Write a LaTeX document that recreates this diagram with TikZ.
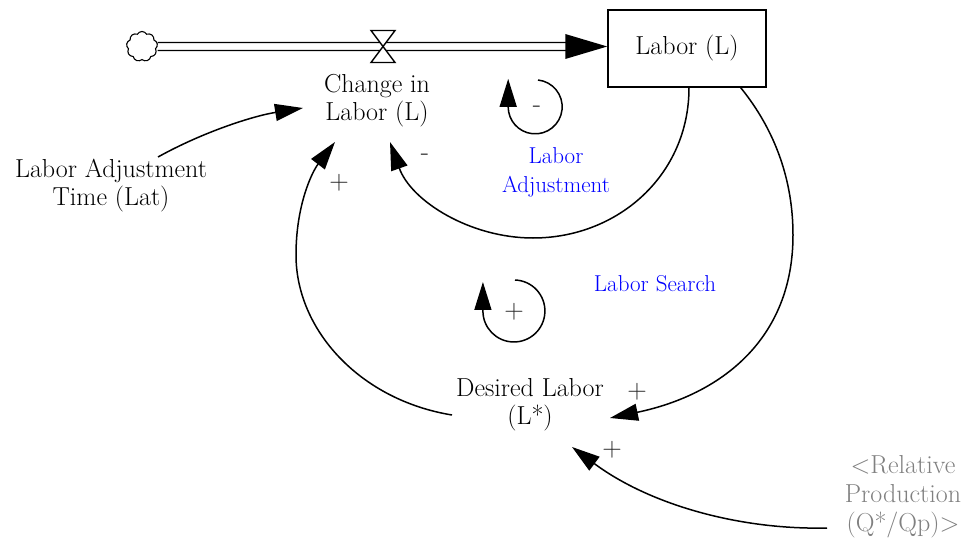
\documentclass[tikz,border=0pt]{standalone}
\usetikzlibrary{arrows.meta,shapes.symbols,calc}
\definecolor{vblue}{RGB}{0,0,255}
\definecolor{vgray}{RGB}{128,128,128}
\begin{document}
\begin{tikzpicture}[x=1pt,y=-1pt,
  lbl/.style={font=\fontsize{26}{28}\selectfont, align=center, inner sep=0pt},
  loopname/.style={font=\fontsize{23}{29}\selectfont, text=vblue, align=center, inner sep=0pt},
  shadowvar/.style={font=\fontsize{26}{29}\selectfont, text=vgray, align=center, inner sep=0pt},
  pol/.style={font=\fontsize{27}{27}\selectfont, text=black!85, inner sep=0pt},
  link/.style={line width=1.5pt, -{Triangle[length=28pt,width=17pt]}},
  loopline/.style={line width=1.5pt, -{Triangle[length=28pt,width=17pt]}},
  pipe/.style={line width=1.4pt}
]
\useasboundingbox (0,0) rectangle (970,559);

% stock and flow
\node[draw, line width=1.5pt, minimum width=158pt, minimum height=77pt, lbl] (box) at (687,48.5) {Labor (L)};
\node[cloud, draw, cloud puffs=9, cloud puff arc=120, aspect=1, minimum width=31pt, minimum height=30pt, inner sep=0pt, line width=1.1pt] (cloud) at (142,46.5) {};
\coordinate (tipL) at ([yshift=2pt]box.west);
\coordinate (valve) at (383,46.5);
\draw[pipe] ([yshift=4pt]cloud.east) -- ([yshift=4pt,xshift=-40pt]tipL);
\draw[pipe] ([yshift=-4pt]cloud.east) -- ([yshift=-4pt,xshift=-40pt]tipL);
\fill ([xshift=-42pt,yshift=12.5pt]tipL) -- (tipL) -- ([xshift=-42pt,yshift=-12.5pt]tipL) -- cycle;
\draw[pipe, fill=white, line join=miter] ($(valve)+(-12,-16)$) -- ($(valve)+(12,-16)$) -- (valve) -- cycle;
\draw[pipe, fill=white, line join=miter] ($(valve)+(-12,16)$) -- ($(valve)+(12,16)$) -- (valve) -- cycle;

% variables
\node[lbl] (chg) at (377,101) {Change in\\Labor (L)};
\node[lbl] (lat) at (111,186) {Labor Adjustment\\Time (Lat)};
\node[lbl] (des) at (530,405) {Desired Labor\\(L*)};
\node[shadowvar] (rp) at (903,497) {<Relative\\Production\\(Q*/Qp)>};

% loop names
\node[loopname] (adjname) at (556,172) {Labor\\Adjustment};
\node[loopname] (searchname) at (655,284) {Labor Search};

% links
\draw[link] ($(lat.center)+(47,-29)$) .. controls (203,132) and (253,116) .. ($(chg.center)+(-74,7)$);
\draw[link] ([xshift=2pt]box.south) .. controls (689,175) and (618,238) .. (533,238) .. controls (470,238) and (411,201) .. ($(chg.center)+(13,41)$);
\draw[link] ([xshift=-26pt]box.south east) .. controls (775,130) and (793,180) .. (793,235) .. controls (793,340) and (720,395) .. ($(des.center)+(80,13)$);
\draw[link] ($(des.center)+(-78,10)$) .. controls (360,400) and (296,330) .. (296,255) .. controls (296,205) and (312,172) .. ($(chg.center)+(-42,41)$);
\draw[link] ($(rp.center)+(-76,31)$) .. controls (740,530) and (650,505) .. ($(des.center)+(42,42)$);

% polarities
\node[pol] (p1) at (425,157) {-};
\node[pol] (p2) at (339,183) {+};
\node[pol] (p3) at (637,392) {+};
\node[pol] (p4) at (612,450) {+};

% loop markers
\draw[loopline] (538,80) arc[start angle=-84, end angle=180, radius=27] -- ++(0,-28);
\node[pol] (l1) at (537,109) {-};
\draw[loopline] (515,280) arc[start angle=-88, end angle=180, radius=31] -- ++(0,-29);
\node[pol] (l2) at (514,312) {+};
\end{tikzpicture}
\end{document}
